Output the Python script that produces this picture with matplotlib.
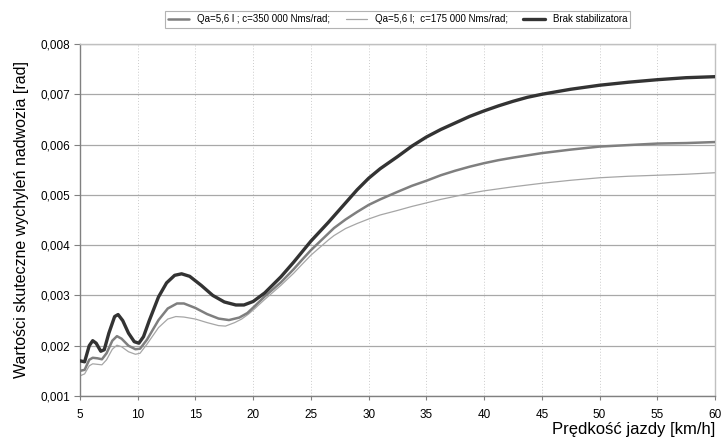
import matplotlib
matplotlib.use("Agg")
import matplotlib.pyplot as plt
from matplotlib.ticker import FuncFormatter, MultipleLocator

plt.rcParams['font.family'] = ['Liberation Sans', 'DejaVu Sans']

# ---- data ----
speed_dark = [5.0, 5.4, 5.8, 6.1, 6.4, 6.8, 7.1, 7.5, 8.0, 8.3, 8.7, 9.2, 9.7, 10.1, 10.5,
              11.0, 11.8, 12.5, 13.2, 13.8, 14.5, 15.5, 16.5, 17.5, 18.5, 19.2, 20.0, 21.0,
              22.4, 23.5, 25.0, 26.5, 27.0, 28.0, 29.0, 30.0, 31.0, 32.5, 33.75, 35.0, 36.25,
              37.5, 38.75, 40.0, 41.25, 42.5, 43.75, 45.0, 47.5, 50.0, 52.5, 55.0, 57.5, 60.0]
brak = [0.00170, 0.00168, 0.00200, 0.00210, 0.00205, 0.00189, 0.00192, 0.00225, 0.00258,
        0.00262, 0.00250, 0.00225, 0.00208, 0.00205, 0.00218, 0.00250, 0.00297, 0.00325,
        0.00340, 0.00343, 0.00338, 0.00320, 0.00300, 0.00287, 0.00281, 0.00281, 0.00288,
        0.00305, 0.00337, 0.00366, 0.00408, 0.00445, 0.00458, 0.00484, 0.00510, 0.00533,
        0.00552, 0.00576, 0.00597, 0.00615, 0.00630, 0.00643, 0.00656, 0.00667, 0.00677,
        0.00686, 0.00694, 0.00700, 0.00710, 0.00718, 0.00724, 0.00729, 0.00733, 0.00735]

speed_med = [5.0, 5.4, 5.8, 6.1, 6.5, 6.9, 7.3, 7.8, 8.2, 8.6, 9.2, 9.8, 10.2, 10.8, 11.8,
             12.6, 13.4, 14.0, 15.0, 16.0, 17.0, 17.9, 18.8, 19.5, 20.1, 21.0, 22.4, 23.5,
             24.2, 25.0, 26.5, 27.0, 28.0, 29.0, 30.0, 31.0, 32.5, 33.75, 35.0, 36.25, 37.5,
             38.75, 40.0, 41.25, 42.5, 45.0, 47.5, 50.0, 52.5, 55.0, 57.5, 60.0]
c350 = [0.00150, 0.00152, 0.00172, 0.00176, 0.00175, 0.00173, 0.00185, 0.00210, 0.00219,
        0.00214, 0.00200, 0.00193, 0.00194, 0.00212, 0.00251, 0.00274, 0.00284, 0.00284,
        0.00275, 0.00263, 0.00254, 0.00251, 0.00256, 0.00265, 0.00278, 0.00298, 0.00326,
        0.00352, 0.00370, 0.00390, 0.00423, 0.00434, 0.00451, 0.00466, 0.00480, 0.00491,
        0.00506, 0.00518, 0.00528, 0.00539, 0.00548, 0.00556, 0.00563, 0.00569, 0.00574,
        0.00583, 0.00590, 0.00596, 0.00599, 0.00602, 0.00603, 0.00605]

speed_light = [5.0, 5.4, 5.8, 6.1, 6.5, 6.9, 7.3, 7.8, 8.2, 8.6, 9.2, 9.8, 10.2, 10.8, 11.8,
               12.6, 13.3, 14.0, 15.0, 16.0, 17.0, 17.6, 18.4, 19.0, 19.6, 20.1, 21.0, 22.4,
               23.5, 24.2, 25.0, 26.5, 27.0, 28.0, 29.0, 30.0, 31.0, 32.5, 33.75, 35.0, 36.25,
               37.5, 38.75, 40.0, 42.5, 45.0, 47.5, 50.0, 52.5, 55.0, 57.5, 60.0]
c175 = [0.00140, 0.00144, 0.00160, 0.00164, 0.00163, 0.00162, 0.00172, 0.00193, 0.00201,
        0.00198, 0.00188, 0.00183, 0.00185, 0.00203, 0.00236, 0.00253, 0.00258, 0.00257,
        0.00253, 0.00246, 0.00240, 0.00239, 0.00246, 0.00253, 0.00263, 0.00273, 0.00292,
        0.00320, 0.00344, 0.00361, 0.00380, 0.00410, 0.00419, 0.00433, 0.00443, 0.00452,
        0.00460, 0.00469, 0.00477, 0.00484, 0.00491, 0.00497, 0.00503, 0.00508, 0.00516,
        0.00523, 0.00529, 0.00534, 0.00537, 0.00539, 0.00541, 0.00544]

labels = ["Qa=5,6 l ; c=350 000 Nms/rad;", "Qa=5,6 l;  c=175 000 Nms/rad;", "Brak stabilizatora"]

fig = plt.figure(figsize=(7.23, 4.40), dpi=100)
ax = fig.add_axes([80 / 723, 1 - 396 / 440, (715 - 80) / 723, (396 - 44) / 440])

kw = dict(solid_joinstyle='round', solid_capstyle='round')
l1, = ax.plot(speed_med, c350, color='#7f7f7f', lw=1.8, zorder=3, **kw)
l2, = ax.plot(speed_light, c175, color='#a6a6a6', lw=0.9, zorder=2, **kw)
l3, = ax.plot(speed_dark, brak, color='#333333', lw=2.4, zorder=4, **kw)

ax.set_xlim(5, 60)
ax.set_ylim(0.001, 0.008)
ax.xaxis.set_major_locator(MultipleLocator(5))
ax.yaxis.set_major_locator(MultipleLocator(0.001))
ax.yaxis.set_major_formatter(FuncFormatter(lambda v, p: f"{v:.3f}".replace('.', ',')))

ax.grid(axis='y', color='#a8a8a8', lw=0.9, ls='-', zorder=0)
ax.grid(axis='x', color='#cccccc', lw=0.7, ls=(0, (1, 2)), zorder=0)
ax.set_axisbelow(True)

for s in ['left', 'bottom']:
    ax.spines[s].set_color('#808080')
    ax.spines[s].set_linewidth(1.0)
for s in ['top', 'right']:
    ax.spines[s].set_color('#c0c0c0')
    ax.spines[s].set_linewidth(1.0)

ax.tick_params(axis='y', direction='out', length=4, color='#808080', labelsize=8.5, pad=3)
ax.tick_params(axis='x', direction='out', length=3, color='#808080', labelsize=8.5, pad=6)

ax.set_ylabel("Wartości skuteczne wychyleń nadwozia [rad]", fontsize=11.5, labelpad=8)
ax.set_xlabel("Prędkość jazdy [km/h]", fontsize=12, labelpad=2)
ax.xaxis.set_label_coords(1.0, -0.075)
ax.xaxis.label.set_horizontalalignment('right')

leg = fig.legend([l1, l2, l3], labels, loc='center', bbox_to_anchor=(397.5 / 723, 1 - 19.5 / 440),
                 ncol=3, fontsize=7, frameon=True, fancybox=False, edgecolor='#a0a0a0',
                 handlelength=2.2, handletextpad=0.8, columnspacing=1.6, borderpad=0.35)
leg.get_frame().set_linewidth(0.8)

fig.savefig("out.png", dpi=100)
